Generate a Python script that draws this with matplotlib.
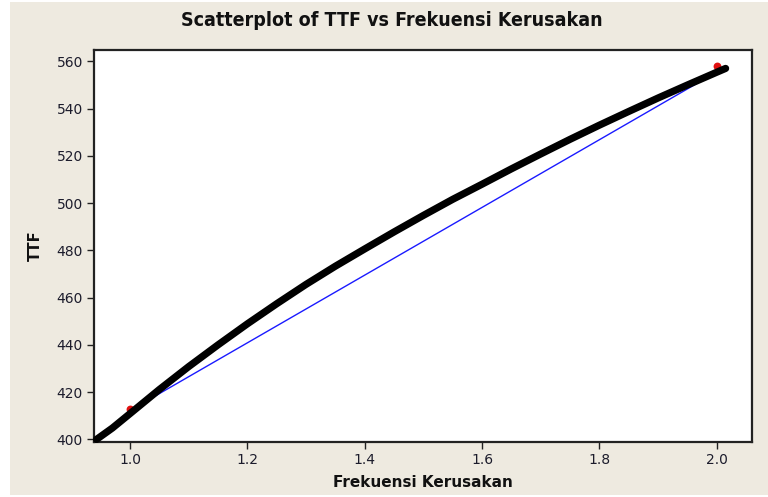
import matplotlib
matplotlib.use("Agg")
import matplotlib.pyplot as plt
from matplotlib.patches import Rectangle

# ---- data ----
freq = [0.943, 0.97, 1.00, 1.05, 1.10, 1.15, 1.20, 1.25, 1.30, 1.35, 1.40, 1.45,
        1.50, 1.55, 1.60, 1.65, 1.70, 1.75, 1.80, 1.85, 1.90, 1.95, 2.00, 2.015]
ttf = [400.0, 404.8, 410.9, 421.1, 430.8, 440.0, 448.9, 457.4, 465.6, 473.3, 480.6, 487.8,
       494.8, 501.6, 508.0, 514.5, 520.8, 527.0, 533.0, 538.8, 544.5, 550.0, 555.4, 557.0]
line_x = [1.03, 2.00]
line_y = [416.5, 555.5]
red_x = [1.00, 2.00]
red_y = [413.0, 558.2]

xticks = [1.0, 1.2, 1.4, 1.6, 1.8, 2.0]
yticks = [400, 420, 440, 460, 480, 500, 520, 540, 560]

BEIGE = "#EEEAE0"
TXT = "#1c1c2c"

fig = plt.figure(figsize=(7.68, 4.97), dpi=100)
fig.patch.set_facecolor("white")
fig.add_artist(Rectangle((10 / 768, 2 / 497), 758 / 768, 493 / 497,
                         transform=fig.transFigure, facecolor=BEIGE,
                         edgecolor="none", zorder=0))

ax = fig.add_axes([94 / 768, 55 / 497, (752 - 94) / 768, (442 - 50) / 497])
ax.set_facecolor("white")

ax.plot(line_x, line_y, color="#1a1aff", lw=1.0, zorder=2)
ax.scatter(red_x, red_y, s=32, color="#e01010", zorder=3, linewidths=0)
ax.plot(freq, ttf, color="black", lw=5.2, solid_capstyle="round", zorder=4,
        clip_on=False)

ax.set_xlim(0.9387, 2.06)
ax.set_ylim(398.9, 564.8)
ax.set_xticks(xticks)
ax.set_xticklabels([f"{v:.1f}" for v in xticks])
ax.set_yticks(yticks)
ax.set_yticklabels([str(v) for v in yticks])

for s in ax.spines.values():
    s.set_linewidth(1.6)
    s.set_color("#222222")
ax.tick_params(direction="out", length=5, width=1, color="#222222",
               labelsize=10, labelcolor=TXT, pad=3)

ax.set_xlabel("Frekuensi Kerusakan", fontsize=11, fontweight="bold",
              color="#111111", labelpad=6)
ax.set_ylabel("TTF", fontsize=10.5, fontweight="bold", color="#111111",
              labelpad=10)

fig.text(392 / 768, 1 - 21 / 497, "Scatterplot of TTF vs Frekuensi Kerusakan",
         ha="center", va="center", fontsize=14, fontweight="bold",
         fontstretch="condensed", color="#111111")

fig.savefig("out.png", dpi=100, facecolor=fig.get_facecolor())
